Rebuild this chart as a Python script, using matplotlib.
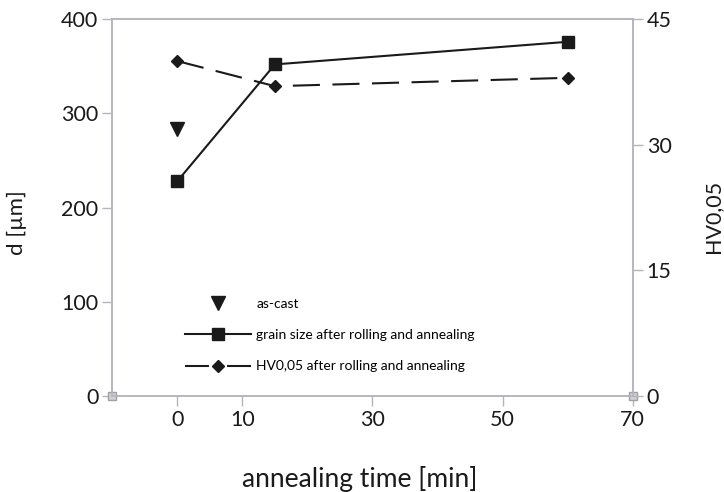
import matplotlib
matplotlib.use("Agg")
import matplotlib.pyplot as plt
from matplotlib.lines import Line2D

plt.rcParams['font.family'] = ['Lato', 'DejaVu Sans']

# data
time_grain = [0, 15, 60]
grain_size = [228, 352, 376]
time_hv = [0, 15, 60]
hv = [40.0, 37.0, 38.0]
time_cast = [0]
as_cast = [283]

xticks = [0, 10, 30, 50, 70]
yticks_left = [0, 100, 200, 300, 400]
yticks_right = [0, 15, 30, 45]

fig = plt.figure(figsize=(7.24, 4.92), dpi=100)
ax = fig.add_axes([0.155, 0.195, 0.719, 0.766])
ax2 = ax.twinx()

ink = '#1a1a1a'
gray = '#b4b4bc'
dash = (0, (13, 6))
ax.plot(time_grain, grain_size, color=ink, lw=1.5, marker='s', ms=9, zorder=5)
ax.plot(time_cast, as_cast, ls='none', color=ink, marker='v', ms=10, zorder=5)
ax2.plot(time_hv, hv, color=ink, lw=1.5, ls=dash, marker='D', ms=6.5, zorder=5)

ax.set_xlim(-10, 70)
ax.set_ylim(0, 400)
ax2.set_ylim(0, 45)
ax.set_xticks(xticks)
ax.set_yticks(yticks_left)
ax2.set_yticks(yticks_right)

for a in (ax, ax2):
    for s in a.spines.values():
        s.set_color(gray)
        s.set_linewidth(1.1)
    a.tick_params(colors=gray, labelcolor=ink, labelsize=15.5, length=7, width=1.0, pad=3)

fig.text(0.497, 0.027, 'annealing time [min]', fontsize=19, color=ink, ha='center', va='center')
fig.text(0.024, 0.547, 'd [µm]', fontsize=16, color=ink, ha='center', va='center', rotation=90)
fig.text(0.985, 0.561, 'HV0,05', fontsize=15.5, color=ink, ha='center', va='center', rotation=90)

# corner markers on bottom axis
ax.plot([-10, 70], [0, 0], ls='none', marker='s', ms=6, mfc='#d0d0d4', mec='#a0a0a8',
        clip_on=False, zorder=6)

handles = [
    Line2D([], [], ls='none', color=ink, marker='v', ms=10),
    Line2D([], [], color=ink, lw=1.5, marker='s', ms=9),
    Line2D([], [], color=ink, lw=1.5, ls=(0, (11.5, 8.7)), marker='D', ms=6.5),
]
labels = ['as-cast', 'grain size after rolling and annealing', 'HV0,05 after rolling and annealing']
ax2.legend(handles, labels, loc='lower left', bbox_to_anchor=(0.13, 0.048), frameon=False,
           fontsize=10, handlelength=4.75, labelspacing=1.4, handletextpad=0.36, borderaxespad=0)

fig.savefig('out.png', dpi=100)
